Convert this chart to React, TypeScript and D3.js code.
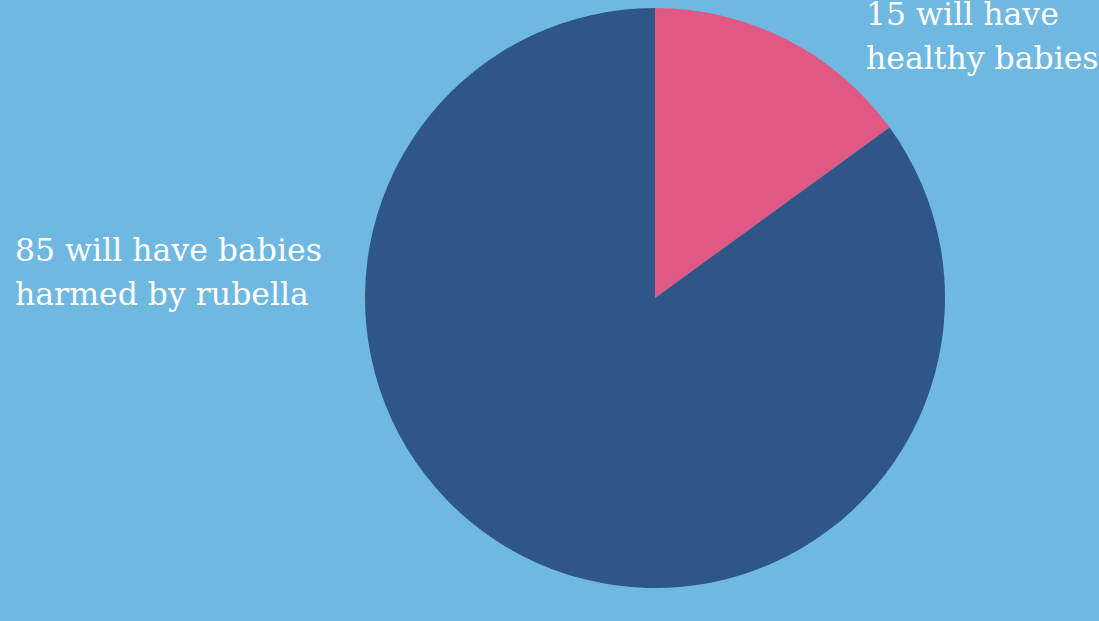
import React from "react";
import * as d3 from "d3";

const categories = ["healthy", "harmed"];
const values = [15, 85];
const labelLines = [
  ["15 will have", "healthy babies"],
  ["85 will have babies", "harmed by rubella"],
];
const colors = ["#E05884", "#2E5787"];

const W = 1099;
const H = 621;

export default function App() {
  const cx = 655;
  const cy = 298;
  const r = 290;
  const pie = d3.pie<number>().sort(null).value((d) => d)(values);
  const arc = d3.arc<d3.PieArcDatum<number>>().innerRadius(0).outerRadius(r);
  const labelPos = [
    { x: 866, y: 25 },
    { x: 15, y: 261 },
  ];
  return (
    <svg
      width={W}
      height={H}
      style={{ position: "absolute", left: 0, top: 0, display: "block" }}
    >
      <rect x={0} y={0} width={W} height={H} fill="#6FB8E2" />
      <g transform={`translate(${cx},${cy})`}>
        {pie.map((p, i) => (
          <path key={categories[i]} d={arc(p) || ""} fill={colors[i]} />
        ))}
      </g>
      {labelLines.map((lines, i) => (
        <text
          key={i}
          x={labelPos[i].x}
          y={labelPos[i].y}
          fill="#ffffff"
          fontFamily="'DejaVu Serif', serif"
          fontSize={31.5}
        >
          {lines.map((l, j) => (
            <tspan key={j} x={labelPos[i].x} dy={j === 0 ? 0 : 44}>
              {l}
            </tspan>
          ))}
        </text>
      ))}
    </svg>
  );
}
